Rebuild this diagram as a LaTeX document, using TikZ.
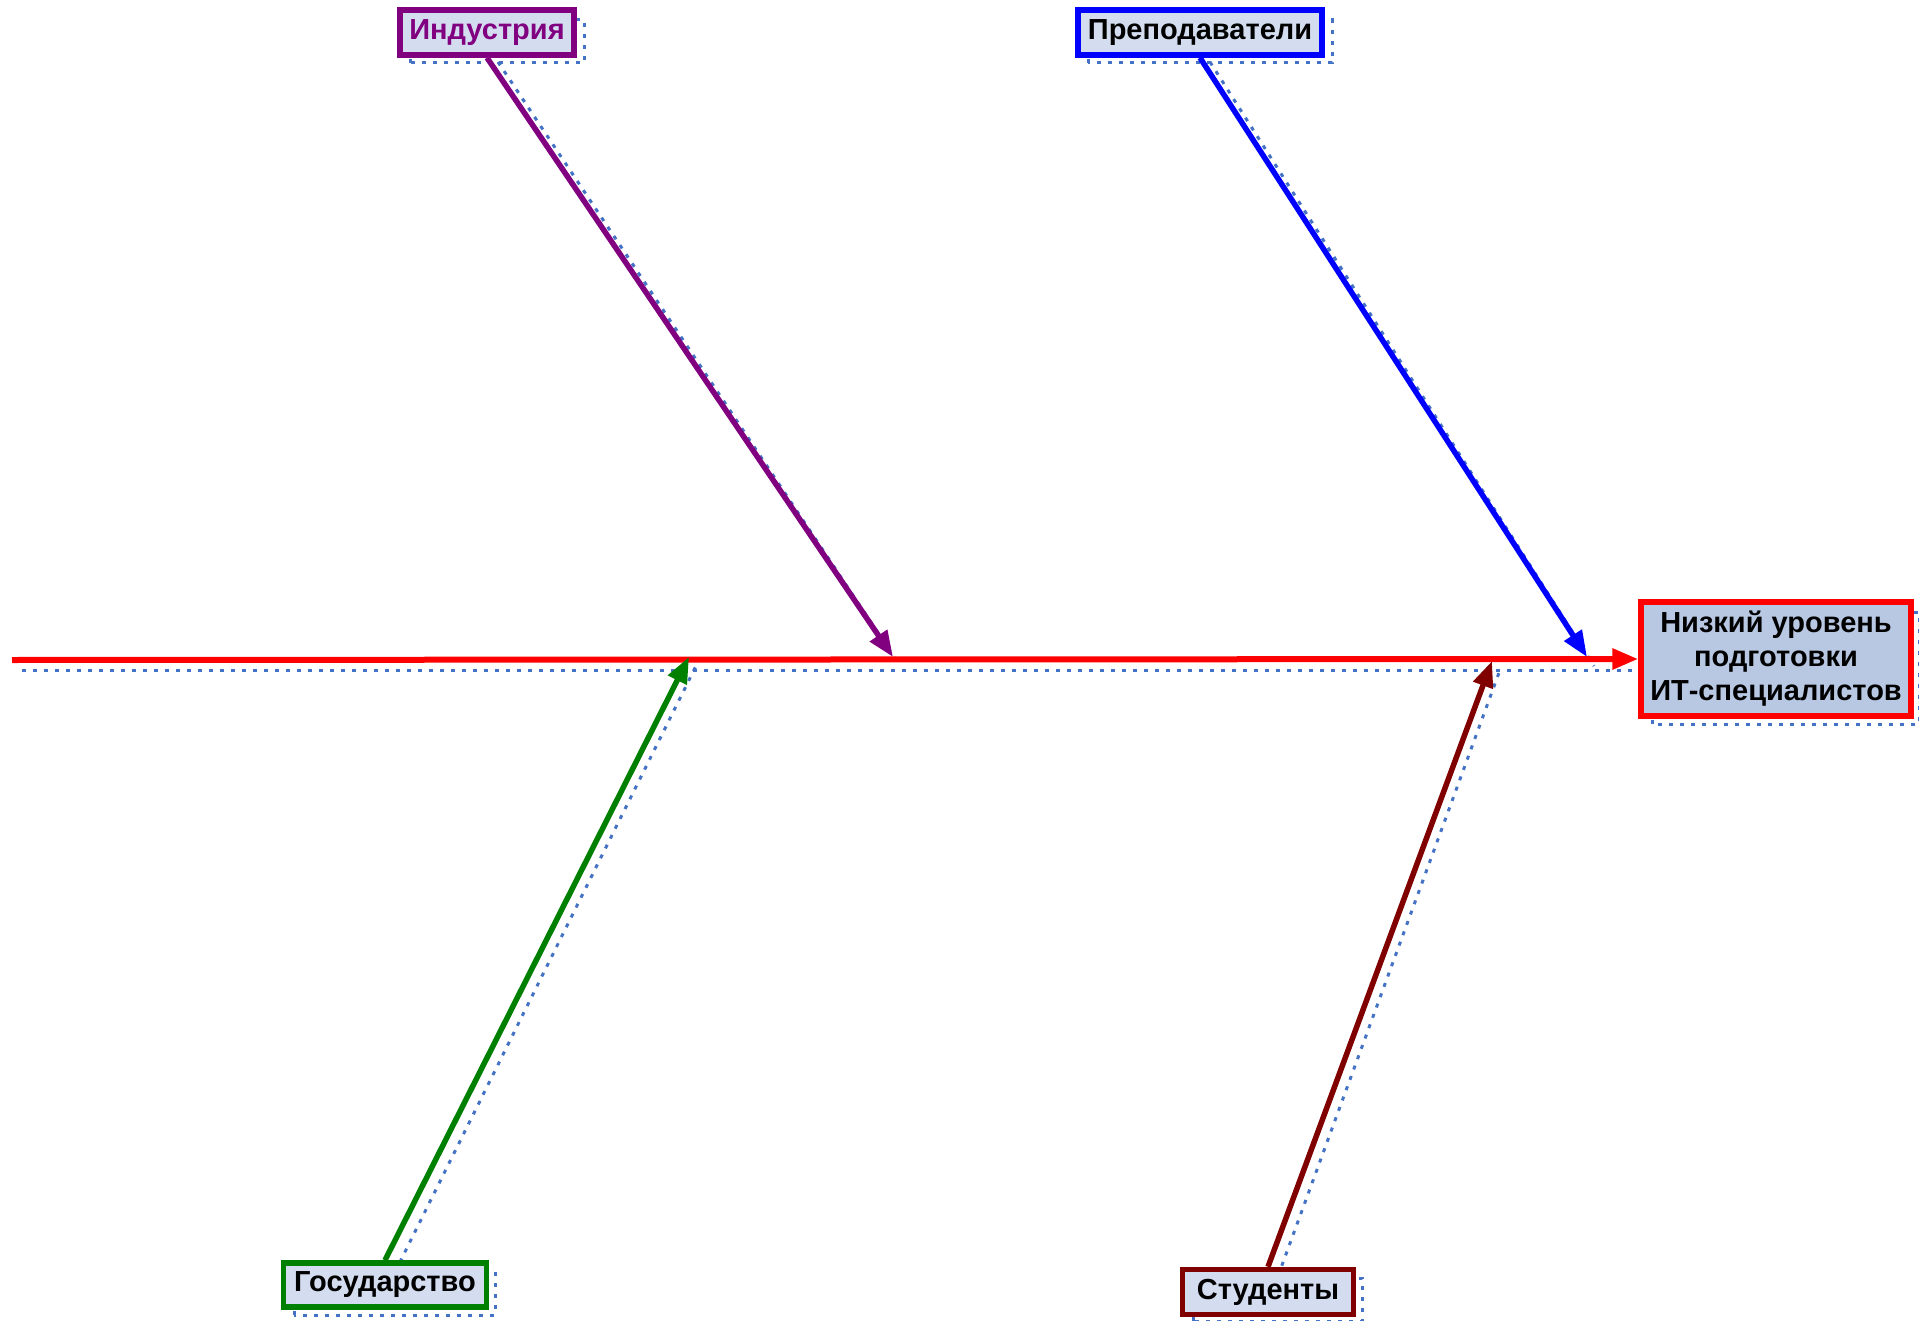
\documentclass[tikz,border=0pt]{standalone}
\usepackage{fontspec}
\setmainfont{Liberation Sans}
\usetikzlibrary{arrows.meta}

\definecolor{spinered}{HTML}{FF0000}
\definecolor{indpurple}{HTML}{800080}
\definecolor{prepblue}{HTML}{0000FF}
\definecolor{gosgreen}{HTML}{008000}
\definecolor{studred}{HTML}{800000}
\definecolor{ghostblue}{HTML}{4472C4}
\definecolor{boxfill}{HTML}{D4DDEF}
\definecolor{effectfill}{HTML}{B8C8E3}

\tikzset{
  cause/.style={draw, line width=5.5pt, fill=boxfill, inner xsep=6pt, inner ysep=6pt,
    font=\fontsize{29}{34}\selectfont\bfseries},
  bone/.style={line width=5.5pt, -{Triangle[length=26pt,width=20pt]}},
  ghost/.style={draw=ghostblue, line width=3pt, dash pattern=on 4pt off 7pt}
}

\begin{document}
\begin{tikzpicture}[x=1pt,y=-1pt]

\useasboundingbox (0,0) rectangle (1919,1321);

% dotted shadows behind
\draw[ghost] (22,670) -- (1645,670);
\draw[ghost] (498,62) -- (900,666);
\draw[ghost] (1210,62) -- (1594,666);
\draw[ghost] (395,1272) -- (696,666);
\draw[ghost] (1278,1276) -- (1500,670);
\draw[ghost] (1652,724) rectangle (1919,612);
\draw[ghost] (410,63) rectangle (584,20);
\draw[ghost] (1088,63) rectangle (1332,20);
\draw[ghost] (294,1315) rectangle (495,1273);
\draw[ghost] (1193,1321) rectangle (1362,1278);

% effect
\node[draw=spinered, line width=5.5pt, fill=effectfill, minimum width=270pt, minimum height=114pt,
  inner xsep=4pt, align=center, font=\fontsize{29}{34}\selectfont\bfseries] (effect) at (1776,659)
  {Низкий уровень\\подготовки\\ИТ-специалистов};

% causes
\node[cause, draw=indpurple, text=indpurple, minimum width=174pt, minimum height=45pt] (ind) at (487,32.5) {Индустрия};
\node[cause, draw=prepblue, minimum width=244pt, minimum height=45pt] (prep) at (1200,32.5) {Преподаватели};
\node[cause, draw=gosgreen, minimum width=203pt, minimum height=44pt] (gos) at (385,1285) {Государство};
\node[cause, draw=studred, minimum width=171pt, minimum height=45pt] (stud) at (1268,1292) {Студенты};

% spine
\coordinate (tail) at (12,660);
\coordinate (jInd) at (893,657);
\coordinate (jPrep) at (1587,657);
\coordinate (jGos) at (689,657);
\coordinate (jStud) at (1492,661);

\draw[bone, spinered, line width=6pt] (tail) -- (effect.west);

\draw[bone, indpurple] (ind.south) -- (jInd);
\draw[bone, prepblue] (prep.south) -- (jPrep);
\draw[bone, gosgreen] (gos.north) -- (jGos);
\draw[bone, studred] (stud.north) -- (jStud);

\end{tikzpicture}
\end{document}
